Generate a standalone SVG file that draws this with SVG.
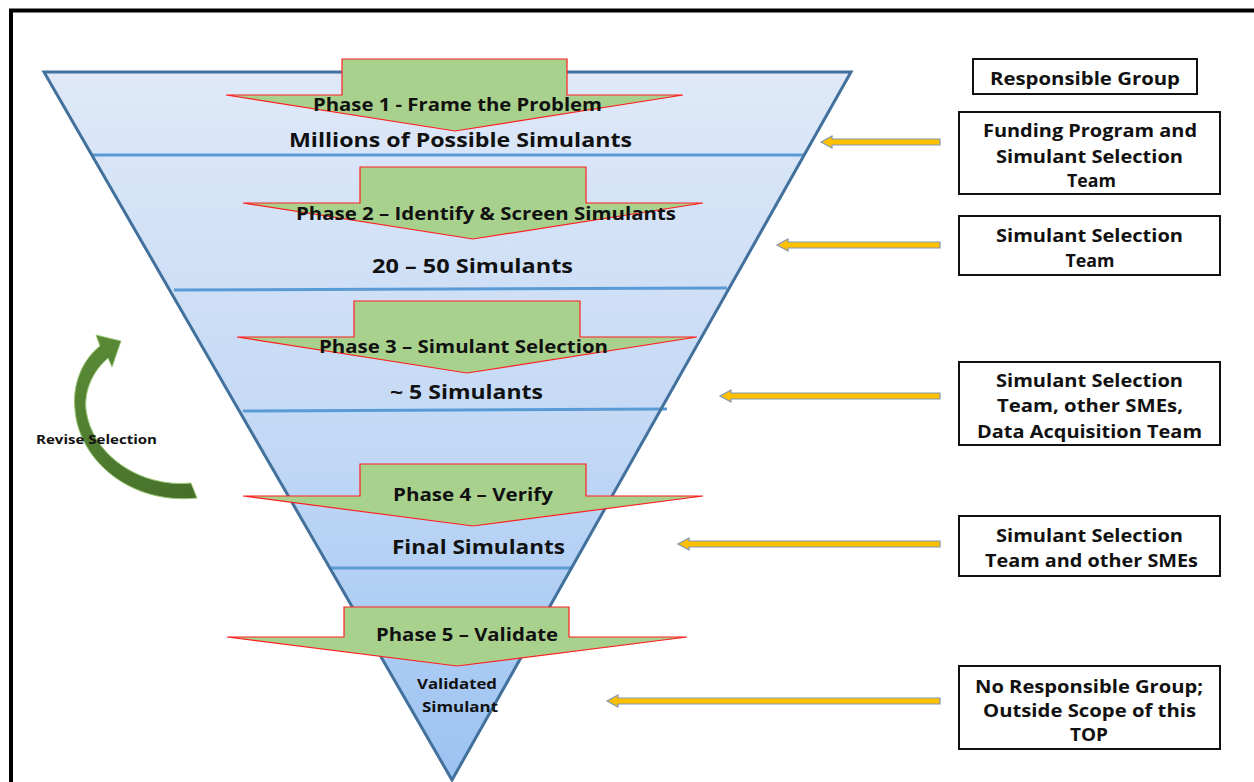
<svg xmlns="http://www.w3.org/2000/svg" width="1254" height="782" viewBox="0 0 1254 782">
<defs>
<linearGradient id="funnelFill" gradientUnits="userSpaceOnUse" x1="0" y1="72" x2="0" y2="780">
<stop offset="0" stop-color="#dfe9f8"/>
<stop offset="0.5" stop-color="#c4d9f5"/>
<stop offset="1" stop-color="#9cc3f2"/>
</linearGradient>
<linearGradient id="curveFill" gradientUnits="userSpaceOnUse" x1="80" y1="340" x2="190" y2="500">
<stop offset="0" stop-color="#5a8a36"/>
<stop offset="1" stop-color="#46702a"/>
</linearGradient>
<style>
.t{font-family:"Open Sans","Noto Sans","Liberation Sans",sans-serif;font-weight:700;fill:#111;}
.ph{font-size:18px;}
.big{font-size:19.5px;}
.box{font-size:17px;}
.phase{fill:#a9d18e;stroke:#ff2020;stroke-width:1.2;stroke-linejoin:miter;}
.div{stroke:#5b9bd5;stroke-width:3;fill:none;}
.ya{fill:#ffc000;stroke:#8497b0;stroke-width:1.2;}
.rb{fill:#ffffff;stroke:#111;stroke-width:2;}
</style>
</defs>
<rect x="0" y="0" width="1254" height="782" fill="#ffffff"/>
<rect x="11" y="10.5" width="1262" height="800" fill="none" stroke="#000" stroke-width="4"/>

<g id="funnel">
<polygon points="44,72 851,72 452,780" fill="url(#funnelFill)"/>
<line class="div" x1="92" y1="155" x2="805" y2="155"/>
<line class="div" x1="174" y1="290" x2="727" y2="288"/>
<line class="div" x1="243" y1="411" x2="667" y2="409"/>
<line class="div" x1="330" y1="568" x2="573" y2="568"/>
<polygon points="44,72 851,72 452,780" fill="none" stroke="#41719c" stroke-width="3" stroke-linejoin="miter"/>
</g>

<g id="phase1">
<polygon class="phase" points="342,59 567,59 567,95 683,95 455,131 226,95 342,95"/>
<text class="t ph" x="313" y="111" textLength="289" lengthAdjust="spacingAndGlyphs">Phase 1 - Frame the Problem</text>
<text class="t big" x="289" y="147" textLength="343" lengthAdjust="spacingAndGlyphs">Millions of Possible Simulants</text>
</g>

<g id="phase2">
<polygon class="phase" points="360,167 586,167 586,203 703,203 473,239 243,203 360,203"/>
<text class="t ph" x="296" y="220" textLength="380" lengthAdjust="spacingAndGlyphs">Phase 2 – Identify &amp; Screen Simulants</text>
<text class="t big" x="372" y="273" textLength="201" lengthAdjust="spacingAndGlyphs">20 – 50 Simulants</text>
</g>

<g id="phase3">
<polygon class="phase" points="354,301 580,301 580,337 697,337 467,373 237,337 354,337"/>
<text class="t ph" x="319" y="353" textLength="289" lengthAdjust="spacingAndGlyphs">Phase 3 – Simulant Selection</text>
<text class="t big" x="390" y="399" textLength="153" lengthAdjust="spacingAndGlyphs">~ 5 Simulants</text>
</g>

<g id="phase4">
<polygon class="phase" points="360,464 586,464 586,496 703,496 473,526 243,496 360,496"/>
<text class="t ph" x="393" y="501" textLength="160" lengthAdjust="spacingAndGlyphs">Phase 4 – Verify</text>
<text class="t big" x="392" y="554" textLength="173" lengthAdjust="spacingAndGlyphs">Final Simulants</text>
</g>

<g id="phase5">
<polygon class="phase" points="344,607 569,607 569,637 687,637 457,666 227,637 344,637"/>
<text class="t ph" x="376" y="641" textLength="182" lengthAdjust="spacingAndGlyphs">Phase 5 – Validate</text>
<text class="t" font-size="14" x="417" y="689" textLength="80" lengthAdjust="spacingAndGlyphs">Validated</text>
<text class="t" font-size="14" x="422" y="712" textLength="76" lengthAdjust="spacingAndGlyphs">Simulant</text>
</g>

<g id="connectors">
<path d="M108,358 L112,367 L121,341 L96,335 L100,346 C82,360 72,385 75,410 C79,460 130,505 197,498 L191,483 C140,488 92,455 86,410 C84,390 93,371 108,358 Z" fill="url(#curveFill)" stroke="#9cc77a" stroke-width="1"/>
<polygon class="ya" points="821,142 832,136 832,139 940,139 940,145 832,145 832,148"/>
<polygon class="ya" points="777,245 788,239 788,242 940,242 940,248 788,248 788,251"/>
<polygon class="ya" points="720,396 731,390 731,393 940,393 940,399 731,399 731,402"/>
<polygon class="ya" points="678,544 689,538 689,541 940,541 940,547 689,547 689,550"/>
<polygon class="ya" points="607,701 618,695 618,698 940,698 940,704 618,704 618,707"/>
</g>

<g id="revise-label">
<text class="t" font-size="12.5" x="36" y="444" textLength="121" lengthAdjust="spacingAndGlyphs">Revise Selection</text>
</g>

<g id="responsible-header">
<rect class="rb" x="973" y="59" width="224" height="35"/>
<text class="t box" x="1085" y="85" text-anchor="middle" textLength="190" lengthAdjust="spacingAndGlyphs">Responsible Group</text>
</g>

<g id="group1">
<rect class="rb" x="959" y="112" width="261" height="82"/>
<text class="t box" x="1090" y="137" text-anchor="middle" textLength="214" lengthAdjust="spacingAndGlyphs">Funding Program and</text>
<text class="t box" x="1089.5" y="163" text-anchor="middle" textLength="187" lengthAdjust="spacingAndGlyphs">Simulant Selection</text>
<text class="t box" x="1091.5" y="187" text-anchor="middle" textLength="49" lengthAdjust="spacingAndGlyphs">Team</text>
</g>

<g id="group2">
<rect class="rb" x="959" y="216" width="261" height="59"/>
<text class="t box" x="1089.5" y="242" text-anchor="middle" textLength="187" lengthAdjust="spacingAndGlyphs">Simulant Selection</text>
<text class="t box" x="1090" y="267" text-anchor="middle" textLength="49" lengthAdjust="spacingAndGlyphs">Team</text>
</g>

<g id="group3">
<rect class="rb" x="959" y="362" width="261" height="83"/>
<text class="t box" x="1089.5" y="387" text-anchor="middle" textLength="187" lengthAdjust="spacingAndGlyphs">Simulant Selection</text>
<text class="t box" x="1090" y="412" text-anchor="middle" textLength="186" lengthAdjust="spacingAndGlyphs">Team, other SMEs,</text>
<text class="t box" x="1089.5" y="438" text-anchor="middle" textLength="225" lengthAdjust="spacingAndGlyphs">Data Acquisition Team</text>
</g>

<g id="group4">
<rect class="rb" x="959" y="516" width="261" height="60"/>
<text class="t box" x="1089.5" y="542" text-anchor="middle" textLength="187" lengthAdjust="spacingAndGlyphs">Simulant Selection</text>
<text class="t box" x="1091.5" y="567" text-anchor="middle" textLength="213" lengthAdjust="spacingAndGlyphs">Team and other SMEs</text>
</g>

<g id="group5">
<rect class="rb" x="959" y="666" width="261" height="83"/>
<text class="t box" x="1089" y="693" text-anchor="middle" textLength="228" lengthAdjust="spacingAndGlyphs">No Responsible Group;</text>
<text class="t box" x="1089.5" y="717" text-anchor="middle" textLength="213" lengthAdjust="spacingAndGlyphs">Outside Scope of this</text>
<text class="t box" x="1089" y="741" text-anchor="middle" textLength="38" lengthAdjust="spacingAndGlyphs">TOP</text>
</g>
</svg>
